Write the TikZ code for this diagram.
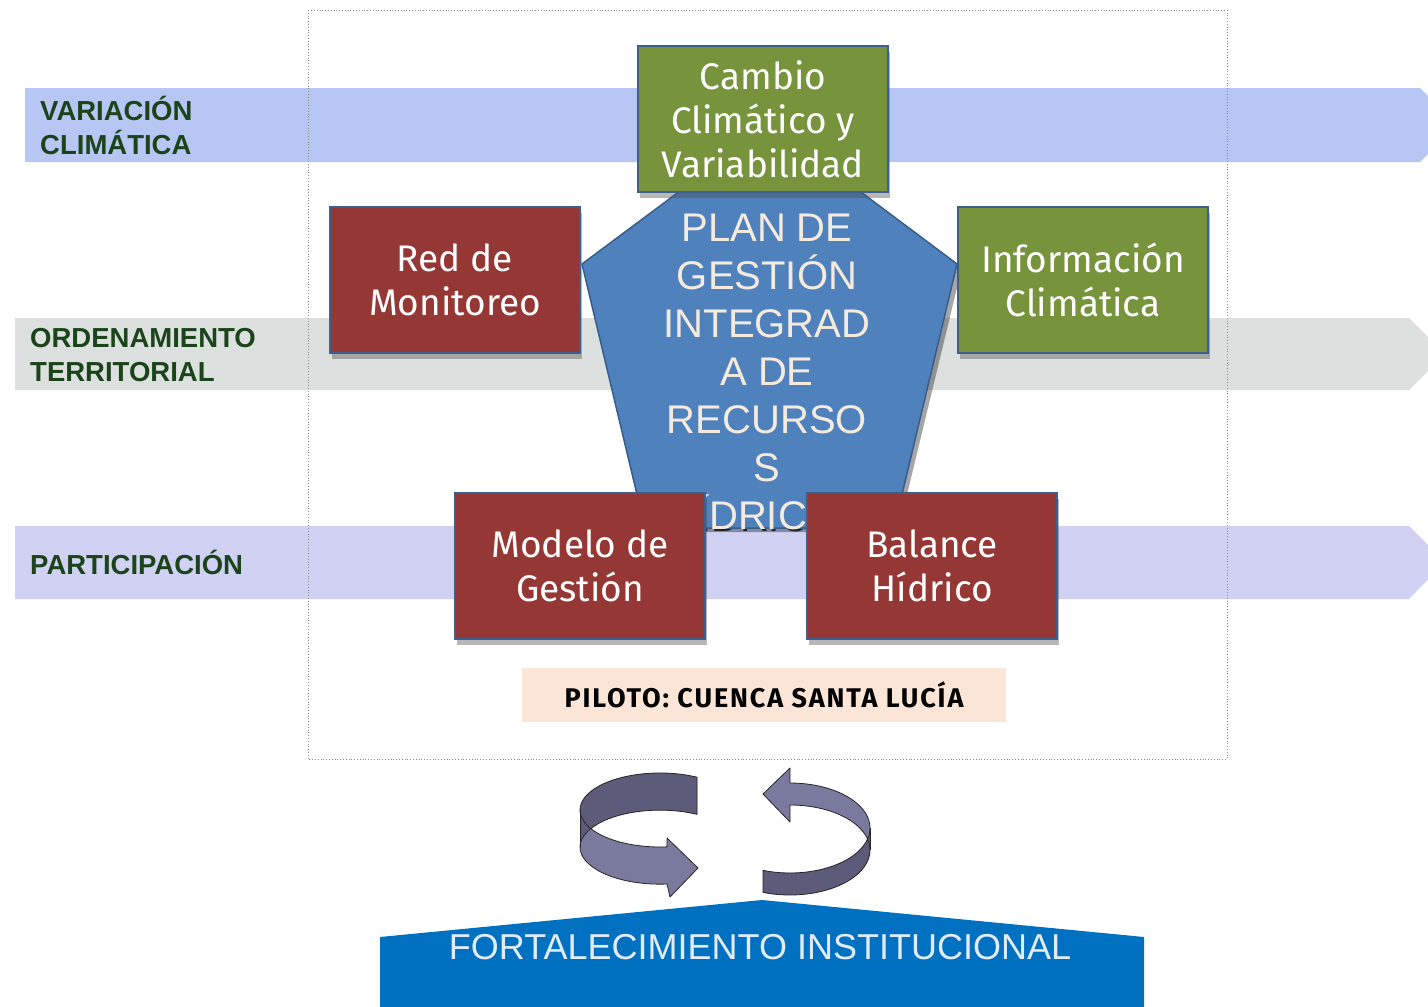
\documentclass[tikz,border=0pt]{standalone}
\usepackage{fontspec}
\setmainfont{Liberation Sans}
\newfontfamily\boxfont{Fira Sans}
\newfontfamily\pilotfont[LetterSpace=7]{Fira Sans}
\usetikzlibrary{shadows}
\definecolor{bandA}{HTML}{B8C6F4}
\definecolor{bandB}{HTML}{DCE1E0}
\definecolor{bandC}{HTML}{D0D1F3}
\definecolor{labgreen}{HTML}{1B441B}
\definecolor{boxgreen}{HTML}{77933C}
\definecolor{boxred}{HTML}{953735}
\definecolor{boxedge}{HTML}{3D5F8F}
\definecolor{pentblue}{HTML}{4F81BD}
\definecolor{pentedge}{HTML}{385D8A}
\definecolor{cream}{HTML}{F5EBDD}
\definecolor{peach}{HTML}{FBE5D6}
\definecolor{fortblue}{HTML}{0070C0}
\definecolor{fortext}{HTML}{E3ECF6}
\definecolor{arrlight}{HTML}{7A7A9E}
\definecolor{arrdark}{HTML}{5C5C7A}
\begin{document}
\begin{tikzpicture}[x=1pt,y=-1pt,
  lab/.style={anchor=west, inner sep=0pt, align=left, text=labgreen,
    font=\bfseries\fontsize{27.5}{34}\selectfont},
  box/.style={draw=boxedge, line width=2pt, minimum width=250pt, minimum height=146pt,
    inner sep=0pt, text=white, align=center,
    font=\boxfont\fontsize{37}{44}\selectfont,
    drop shadow={shadow xshift=2pt, shadow yshift=-6pt, fill=black!70, opacity=.4}},
  pilotbox/.style={fill=peach, minimum width=484pt, minimum height=54pt, inner sep=0pt,
    font=\pilotfont\bfseries\fontsize{27}{30}\selectfont},
  plantext/.style={align=center, inner sep=0pt, font=\fontsize{40}{48}\selectfont},
  ribbon/.style={draw=black!85, line width=0.8pt, line join=round},
  frame/.style={draw=black!45, dotted, line width=0.8pt}]
\useasboundingbox (0,0) rectangle (1428,1007);
\fill[white] (0,0) rectangle (1428,1007);
\begin{scope}
\clip (0,0) rectangle (1428,1007);
% bands
\fill[bandA] (25,88) -- (1420,88) -- (1457,125) -- (1420,162) -- (25,162) -- cycle;
\fill[bandB] (15,318) -- (1409,318) -- (1445,354) -- (1409,390) -- (15,390) -- cycle;
\fill[bandC] (15,526) -- (1409,526) -- (1445,562) -- (1409,599) -- (15,599) -- cycle;
\end{scope}
\node[lab] (lvar) at (40,125) {VARIACIÓN\\CLIMÁTICA};
\node[lab] (lord) at (30,355) {ORDENAMIENTO\\TERRITORIAL};
\node[lab] (lpar) at (30,562) {PARTICIPACIÓN};
% dotted frame
\draw[frame] (308,10) rectangle (1227,759);
% pentagon
\node[plantext, text=black, opacity=.75] (planshadow) at (769,374)
  {PLAN DE\\GESTIÓN\\INTEGRAD\\A DE\\RECURSO\\S\\HÍDRICOS};
\fill[black, opacity=.35] (774,127) -- (962,267) -- (898,532) -- (649,532) -- (586,268) -- cycle;
\draw[fill=pentblue, draw=pentedge, line width=1.5pt, line join=round]
  (770,124) -- (957,264) -- (894,528) -- (645,528) -- (582,264) -- cycle;
\node[plantext, text=cream] (plan) at (767,372)
  {PLAN DE\\GESTIÓN\\INTEGRAD\\A DE\\RECURSO\\S\\HÍDRICOS};
% boxes
\node[box, fill=boxgreen] (cambio) at (763,119) {Cambio\\Climático y\\Variabilidad};
\node[box, fill=boxred] (red) at (455,279.5) {Red de\\Monitoreo};
\node[box, fill=boxgreen] (info) at (1083,279.5) {Información\\Climática};
\node[box, fill=boxred] (modelo) at (580,566) {Modelo de\\Gestión};
\node[box, fill=boxred] (balance) at (932,566) {Balance\\Hídrico};
\node[pilotbox] (piloto) at (764,695) {PILOTO: CUENCA SANTA LUCÍA};
% circular arrows - left
\fill[arrlight] (660,810) ++(-62.4:80 and 37)
  arc[start angle=-62.4, end angle=-275, x radius=80, y radius=37]
  -- (667,838) -- (698,868) -- (670,897) -- (667,884)
  arc[start angle=-275, end angle=-62.4, x radius=80, y radius=37] -- cycle;
\fill[arrdark] (660,810) ++(-62.4:80 and 37)
  arc[start angle=-62.4, end angle=-180, x radius=80, y radius=37]
  -- (580,847)
  arc[start angle=-180, end angle=-62.4, x radius=80, y radius=37] -- cycle;
\draw[ribbon] (660,810) ++(-62.4:80 and 37)
  arc[start angle=-62.4, end angle=-275, x radius=80, y radius=37]
  -- (667,838) -- (698,868) -- (670,897) -- (667,884)
  arc[start angle=-275, end angle=-62.4, x radius=80, y radius=37] -- cycle;
\draw[ribbon] (580,810) -- (580,847);
% circular arrows - right
\fill[arrlight] (790,828) ++(109.7:80 and 45)
  arc[start angle=109.7, end angle=-90, x radius=80, y radius=45]
  -- (790,768) -- (763,794) -- (790,822) -- (790,805)
  arc[start angle=-90, end angle=109.7, x radius=80, y radius=45] -- cycle;
\fill[arrdark] (790,828) ++(109.7:80 and 45)
  arc[start angle=109.7, end angle=0, x radius=80, y radius=45]
  -- (870,850)
  arc[start angle=0, end angle=109.7, x radius=80, y radius=45] -- cycle;
\draw[ribbon] (790,828) ++(109.7:80 and 45)
  arc[start angle=109.7, end angle=-90, x radius=80, y radius=45]
  -- (790,768) -- (763,794) -- (790,822) -- (790,805)
  arc[start angle=-90, end angle=109.7, x radius=80, y radius=45] -- cycle;
\draw[ribbon] (870,828) -- (870,850);
% bottom shape
\fill[fortblue] (380,1010) -- (380,937) -- (762,900) -- (1144,937) -- (1144,1010) -- cycle;
\node[inner sep=0pt, text=fortext, font=\fontsize{36}{40}\selectfont] (fort) at (760,947)
  {FORTALECIMIENTO INSTITUCIONAL};
\end{tikzpicture}
\end{document}
